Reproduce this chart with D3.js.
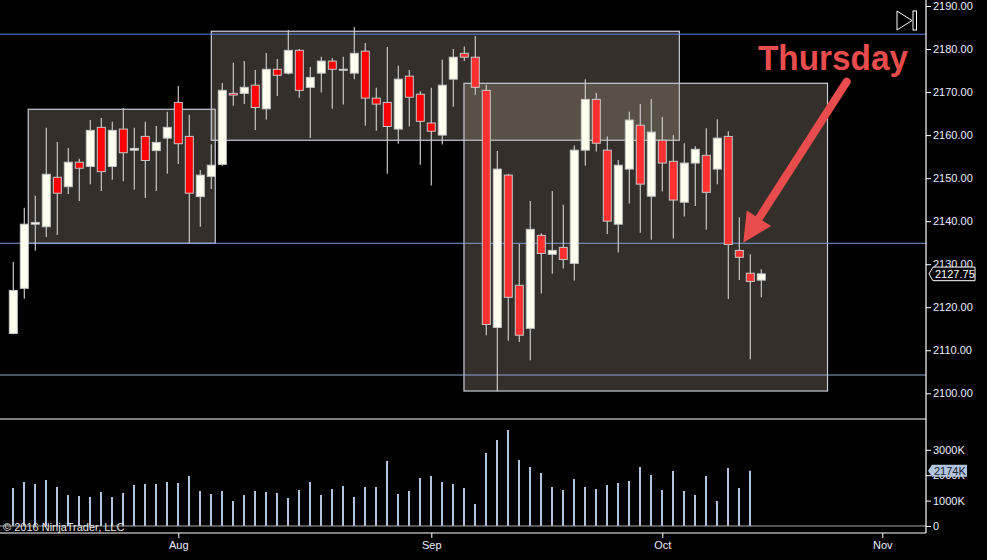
<!DOCTYPE html>
<html>
<head>
<meta charset="utf-8">
<script src="https://cdn.jsdelivr.net/npm/d3@7"></script>
<style>
html, body { margin: 0; padding: 0; background: #000; }
svg { display: block; }
text { font-family: "Liberation Sans", Arial, sans-serif; }
</style>
</head>
<body>
<div id="chart"></div>
<script>
// daily ES bars, Jul 11 .. Oct 14 2016 (one per trading day)
var opens  = [2113.9,2124.4,2139.3,2138.7,2150.2,2148.0,2153.7,2152.7,2161.8,2152.7,
              2161.4,2156.5,2159.7,2156.4,2159.3,2167.6,2159.7,2145.7,2150.4,2153.2,
              2169.7,2169.7,2171.6,2166.1,2175.3,2174.4,2179.7,2171.1,2174.4,2177.2,
              2175.1,2174.4,2179.5,2168.6,2167.6,2161.4,2173.7,2169.5,2162.8,2160.0,
              2173.0,2179.0,2178.1,2170.4,2115.3,2150.7,2125.1,2115.1,2136.7,2132.3,
              2133.9,2130.2,2156.5,2168.3,2156.5,2139.3,2152.1,2162.3,2145.8,2158.8,
              2153.9,2144.4,2153.5,2155.3,2152.1,2159.7,2133.2,2127.9,2126.3];
var highs  = [2130.5,2143.1,2145.9,2161.7,2158.4,2157.0,2154.5,2163.5,2164.0,2163.1,
              2166.3,2161.7,2163.1,2162.1,2165.4,2171.4,2164.7,2151.9,2157.9,2172.1,
              2176.8,2177.2,2175.1,2179.1,2177.7,2184.4,2180.0,2175.8,2178.2,2177.9,
              2178.2,2185.1,2181.4,2171.0,2180.5,2176.1,2175.1,2170.2,2171.0,2177.5,
              2180.0,2180.6,2183.0,2171.7,2156.3,2151.0,2134.7,2144.7,2137.2,2147.0,
              2143.8,2157.6,2173.0,2169.8,2159.7,2154.2,2165.4,2167.2,2168.4,2164.2,
              2160.0,2158.1,2157.4,2161.6,2163.7,2160.9,2140.9,2132.3,2128.8];
var lows   = [2113.7,2122.0,2133.1,2136.3,2136.8,2146.3,2144.7,2148.6,2147.0,2149.6,
              2149.3,2147.3,2145.4,2147.0,2151.0,2153.3,2134.9,2138.7,2147.5,2152.9,
              2166.8,2167.2,2161.2,2163.6,2169.1,2174.1,2168.7,2159.3,2169.9,2166.1,
              2167.1,2173.0,2162.2,2161.0,2151.0,2158.0,2162.0,2153.1,2148.3,2157.8,
              2166.6,2177.2,2169.4,2113.5,2100.5,2112.2,2111.9,2107.7,2123.2,2127.8,
              2129.0,2126.2,2152.9,2156.2,2137.0,2132.7,2144.1,2137.3,2135.7,2146.9,
              2136.0,2141.1,2143.5,2138.0,2148.6,2121.9,2126.3,2107.9,2122.3];
var closes = [2123.9,2139.3,2139.7,2150.9,2146.5,2153.7,2152.3,2161.1,2151.5,2161.1,
              2155.9,2156.9,2154.1,2158.3,2161.8,2158.0,2146.5,2150.7,2153.0,2170.4,
              2169.3,2171.1,2166.4,2175.3,2173.9,2179.7,2170.4,2173.4,2177.2,2175.3,
              2175.3,2179.0,2168.6,2167.2,2162.0,2173.0,2168.8,2163.2,2160.9,2171.6,
              2178.1,2178.1,2171.1,2116.0,2152.1,2122.3,2113.5,2138.1,2132.5,2133.2,
              2131.1,2156.5,2168.3,2158.1,2140.0,2153.0,2163.5,2148.6,2160.7,2153.5,
              2144.9,2153.5,2156.7,2146.7,2159.3,2134.6,2131.6,2126.0,2127.75];
// volume in thousands (today's bar has none yet)
var volumes = [1496,1732,1654,1811,1535,1220,1181,1142,1339,1142,
               1299,1614,1654,1654,1732,1693,1969,1378,1260,1378,
               984,1220,1378,1339,1299,1102,1417,1732,1220,1457,
               1575,1142,1535,1535,2559,1260,1378,1890,1969,1732,
               1654,1496,866,2874,3386,3780,2598,2323,2087,1535,
               1417,1850,1535,1457,1614,1693,1772,2323,2008,1417,
               2165,1378,1220,1969,984,2283,1496,2174];

var priceTicks = [2100,2110,2120,2130,2140,2150,2160,2170,2180,2190];
var volTicks = [0,1000,2000,3000];
var monthTickIdx = [15,38,59,79];
var monthLabels = ['Aug','Sep','Oct','Nov'];

// drawn objects, in bar index / price
var rangeBoxes = [
  {i0: 1.36, i1: 18.36, hi: 2166.0, lo: 2134.86},
  {i0: 18.0, i1: 60.55, hi: 2184.13, lo: 2158.8},
  {i0: 40.97, i1: 74.02, hi: 2172.04, lo: 2100.53}
];
var hLevels = [2183.45, 2134.86, 2104.25];
var hColors = ['#4f82e6', '#7d9bd6', '#8ea6d4'];
var arrowFrom = {i: 75.76, p: 2172.4}, arrowTo = {i: 66.36, p: 2135.0};
var noteText = 'Thursday', noteAt = {i: 67.7, p: 2175.1};

var width = 987, height = 560;
var plotRight = 926, priceBottom = 419, volBottom = 533;
var upColor = '#fffff0', downColor = '#ff0000', edge = '#c8c8c8';

var svg = d3.select('#chart').append('svg')
            .attr('width', width)
            .attr('height', height);
svg.append('rect').attr('width', width).attr('height', height).attr('fill', '#000');

var x = d3.scaleLinear().domain([0, opens.length - 1]).range([13.3, 13.3 + 11 * (opens.length - 1)]);
var y = d3.scaleLinear().domain([2100, 2190]).range([393.3, 6]);
var yv = d3.scaleLinear().domain([0, 4000]).range([526, 424.4]);

var candles = opens.map(function(o, i) {
  return {i: i, o: o, h: highs[i], l: lows[i], c: closes[i]};
});

// boxes behind everything
svg.append('g').selectAll('rect').data(rangeBoxes).enter().append('rect')
   .attr('x', function(d){ return x(d.i0); })
   .attr('y', function(d){ return y(d.hi); })
   .attr('width', function(d){ return x(d.i1) - x(d.i0); })
   .attr('height', function(d){ return y(d.lo) - y(d.hi); })
   .attr('fill', 'rgb(187,170,152)')
   .attr('fill-opacity', 0.28)
   .attr('stroke', '#c8ccd6')
   .attr('stroke-width', 1.2);

// horizontal lines
svg.append('g').selectAll('line').data(hLevels).enter().append('line')
   .attr('x1', 0).attr('x2', plotRight)
   .attr('y1', function(d){ return y(d); })
   .attr('y2', function(d){ return y(d); })
   .attr('stroke', function(d, i){ return hColors[i]; })
   .attr('stroke-width', 1);

// candles
var cg = svg.append('g');
cg.selectAll('line.wick').data(candles).enter().append('line')
  .attr('class', 'wick')
  .attr('x1', function(d){ return x(d.i); })
  .attr('x2', function(d){ return x(d.i); })
  .attr('y1', function(d){ return y(d.h); })
  .attr('y2', function(d){ return y(d.l); })
  .attr('stroke', edge)
  .attr('stroke-width', 1.2);
cg.selectAll('rect.body').data(candles).enter().append('rect')
  .attr('class', 'body')
  .attr('x', function(d){ return x(d.i) - 4; })
  .attr('width', 8)
  .attr('y', function(d){ return y(Math.max(d.o, d.c)); })
  .attr('height', function(d){ return Math.max(1, Math.abs(y(d.o) - y(d.c))); })
  .attr('fill', function(d){
    if (d.c >= d.o) return upColor;
    return d.i >= 41 ? '#ff3030' : downColor;
  })
  .attr('stroke', edge)
  .attr('stroke-width', 1);

// volume
svg.append('g').selectAll('rect').data(volumes).enter().append('rect')
   .attr('x', function(d, i){ return x(i) - 1.3; })
   .attr('width', 2)
   .attr('y', function(d){ return yv(d); })
   .attr('height', function(d){ return yv(0) - yv(d); })
   .attr('fill', '#b0c4de');

// panel lines
svg.append('line').attr('x1', 0).attr('x2', plotRight).attr('y1', yv(0)).attr('y2', yv(0))
   .attr('stroke', '#a8a8a8').attr('stroke-width', 1);
svg.append('line').attr('x1', 0).attr('x2', plotRight).attr('y1', priceBottom).attr('y2', priceBottom)
   .attr('stroke', '#fff').attr('stroke-width', 1.2);
svg.append('line').attr('x1', 0).attr('x2', plotRight).attr('y1', volBottom).attr('y2', volBottom)
   .attr('stroke', '#fff').attr('stroke-width', 1.2);
svg.append('line').attr('x1', plotRight).attr('x2', plotRight).attr('y1', 0).attr('y2', volBottom)
   .attr('stroke', '#fff').attr('stroke-width', 1.2);

// axes
function styleAxis(g) {
  g.select('.domain').remove();
  g.selectAll('line').attr('stroke', '#fff');
  g.selectAll('text').attr('fill', '#e8eeff').style('font-size', '11px')
   .style('font-family', '"Liberation Sans", Arial, sans-serif');
}
var yAxis = d3.axisRight(y).tickValues(priceTicks).tickFormat(d3.format('.2f')).tickSize(5).tickPadding(2);
svg.append('g').attr('transform', 'translate(' + plotRight + ',0)').call(yAxis).call(styleAxis);

var vAxis = d3.axisRight(yv).tickValues(volTicks)
              .tickFormat(function(d){ return d === 0 ? '0' : d + 'K'; })
              .tickSize(5).tickPadding(2);
svg.append('g').attr('transform', 'translate(' + plotRight + ',0)').call(vAxis).call(styleAxis);

var xAxis = d3.axisBottom(x).tickValues(monthTickIdx)
              .tickFormat(function(d, i){ return monthLabels[i]; })
              .tickSize(5).tickPadding(3);
svg.append('g').attr('transform', 'translate(0,' + volBottom + ')').call(xAxis).call(styleAxis);

// last price marker
var lastClose = closes[closes.length - 1];
var py = y(lastClose);
svg.append('path')
   .attr('d', 'M' + (plotRight + 3) + ',' + py + 'L' + (plotRight + 7) + ',' + (py - 6.8) +
              'H975V' + (py + 6.8) + 'H' + (plotRight + 7) + 'Z')
   .attr('fill', '#000').attr('stroke', '#fff').attr('stroke-width', 1);
svg.append('text').attr('x', plotRight + 9).attr('y', py).attr('dy', '0.36em')
   .attr('fill', '#fff').style('font-size', '11px').text(d3.format('.2f')(lastClose));

// last volume marker
var lastVol = volumes[volumes.length - 1];
var vy = yv(lastVol);
svg.append('path')
   .attr('d', 'M' + (plotRight + 2) + ',' + vy + 'L' + (plotRight + 6) + ',' + (vy - 6) +
              'H967V' + (vy + 6) + 'H' + (plotRight + 6) + 'Z')
   .attr('fill', '#b0c4de');
svg.append('text').attr('x', plotRight + 8).attr('y', vy).attr('dy', '0.36em')
   .attr('fill', '#1c2233').style('font-size', '11px').text(lastVol + 'K');

// arrow + note
var ax0 = x(arrowFrom.i), ay0 = y(arrowFrom.p), ax1 = x(arrowTo.i), ay1 = y(arrowTo.p);
var len = Math.hypot(ax1 - ax0, ay1 - ay0), ux = (ax1 - ax0) / len, uy = (ay1 - ay0) / len;
var headL = 29, headW = 14.5;
var bx = ax1 - ux * headL, by = ay1 - uy * headL;
var arrowRed = '#e84c4c';
svg.append('line').attr('x1', ax0).attr('y1', ay0).attr('x2', bx + ux * 3).attr('y2', by + uy * 3)
   .attr('stroke', arrowRed).attr('stroke-width', 8).attr('stroke-linecap', 'round');
svg.append('path')
   .attr('d', 'M' + ax1 + ',' + ay1 +
              'L' + (bx - uy * headW) + ',' + (by + ux * headW) +
              'L' + (bx + uy * headW) + ',' + (by - ux * headW) + 'Z')
   .attr('fill', arrowRed);
svg.append('text').attr('x', x(noteAt.i)).attr('y', y(noteAt.p))
   .attr('fill', arrowRed).style('font-size', '35px').style('font-weight', 'bold')
   .attr('textLength', 150).attr('lengthAdjust', 'spacingAndGlyphs')
   .text(noteText);

// scroll-to-end icon
svg.append('path').attr('d', 'M897,11L897,30L912,20.5Z')
   .attr('fill', 'none').attr('stroke', '#fff').attr('stroke-width', 1);
svg.append('rect').attr('x', 913).attr('y', 11).attr('width', 3.5).attr('height', 19)
   .attr('fill', 'none').attr('stroke', '#fff').attr('stroke-width', 1);

// copyright
svg.append('text').attr('x', 3).attr('y', 530.5)
   .attr('fill', '#e6e6e6').style('font-size', '11px')
   .text('\u00a9 2016 NinjaTrader, LLC');
</script>
</body>
</html>
